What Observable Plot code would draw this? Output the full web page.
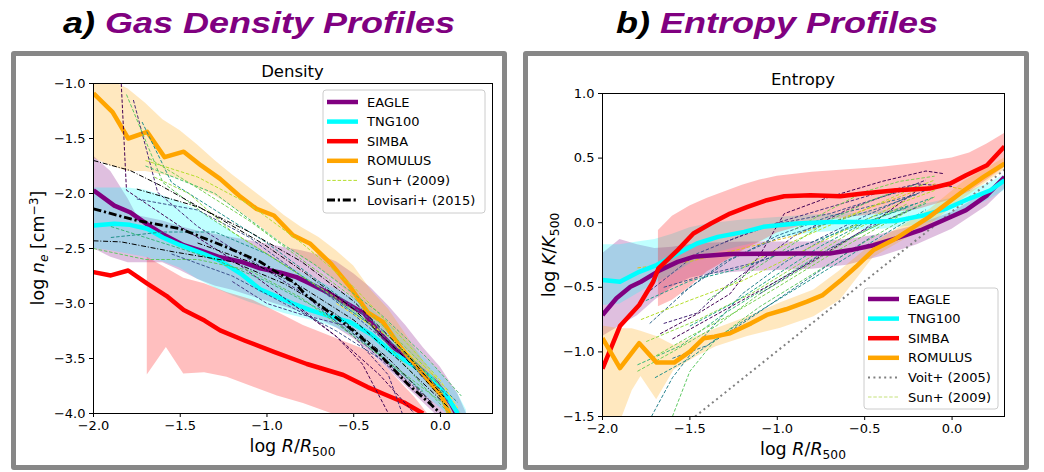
<!DOCTYPE html>
<html><head><meta charset="utf-8">
<script src="https://cdn.jsdelivr.net/npm/d3@7"></script>
<script src="https://cdn.jsdelivr.net/npm/@observablehq/plot@0.6"></script>
<style>
body{margin:0;background:#fff;width:1044px;height:472px;position:relative;overflow:hidden;font-family:"DejaVu Sans",sans-serif}
.title{position:absolute;top:8px;font-family:"Liberation Sans",Arial,sans-serif;font-weight:bold;font-style:italic;font-size:30px;line-height:30px;white-space:nowrap;transform:translateX(-50%) scaleX(1.2);transform-origin:center}
.box{position:absolute;top:51px;height:419px;border:5px solid #878787;border-radius:3px;box-sizing:border-box}
.panel{position:absolute;top:56px}
</style></head><body>
<div class="title" style="left:259px">a) <span style="color:#800080">Gas Density Profiles</span></div>
<div class="title" style="left:777px">b) <span style="color:#800080">Entropy Profiles</span></div>
<div class="box" style="left:11px;width:496px"></div>
<div class="box" style="left:523px;width:506px"></div>
<div id="left" class="panel" style="left:16px"></div>
<div id="right" class="panel" style="left:528px"></div>
<script>
// ---------------- DATA: Density panel (x = log R/R500, y = log n_e) ----------------
const dEagle = [[-2.0,-1.97],[-1.88,-2.11],[-1.79,-2.17],[-1.69,-2.28],[-1.6,-2.37],[-1.48,-2.47],[-1.38,-2.52],[-1.27,-2.58],[-1.15,-2.62],[-1.04,-2.68],[-0.92,-2.72],[-0.83,-2.76],[-0.75,-2.82],[-0.65,-2.9],[-0.54,-3.0],[-0.44,-3.09],[-0.35,-3.27],[-0.25,-3.43],[-0.15,-3.55],[-0.02,-3.73],[0.06,-3.91],[0.09,-4.0]];
const dTng = [[-2.0,-2.29],[-1.88,-2.275],[-1.79,-2.285],[-1.69,-2.32],[-1.6,-2.4],[-1.5,-2.47],[-1.38,-2.54],[-1.27,-2.61],[-1.15,-2.73],[-1.04,-2.87],[-0.94,-2.94],[-0.85,-3.0],[-0.75,-3.06],[-0.63,-3.12],[-0.52,-3.17],[-0.4,-3.28],[-0.29,-3.43],[-0.17,-3.55],[-0.06,-3.67],[0.04,-3.85],[0.1,-4.0]];
const dSimba = [[-2.0,-2.715],[-1.9,-2.745],[-1.8,-2.70],[-1.69,-2.82],[-1.58,-2.93],[-1.48,-3.06],[-1.36,-3.155],[-1.27,-3.245],[-1.13,-3.336],[-0.96,-3.44],[-0.77,-3.55],[-0.56,-3.65],[-0.42,-3.76],[-0.33,-3.82],[-0.21,-3.90],[-0.1,-4.0]];
const dRomulus = [[-2.0,-1.09],[-1.89,-1.26],[-1.8,-1.5],[-1.69,-1.44],[-1.59,-1.67],[-1.48,-1.62],[-1.38,-1.745],[-1.27,-1.867],[-1.16,-2.02],[-1.06,-2.14],[-0.96,-2.2],[-0.85,-2.38],[-0.75,-2.457],[-0.63,-2.64],[-0.52,-2.85],[-0.42,-3.08],[-0.33,-3.17],[-0.23,-3.40],[-0.1,-3.64],[0.0,-3.82],[0.05,-4.0]];
// bands: [x, low, high]
const dEagleBand = [[-2.0,-2.5,-1.66],[-1.9,-2.58,-1.8],[-1.8,-2.63,-2.05],[-1.75,-2.63,-2.2],[-1.6,-2.63,-2.25],[-1.5,-2.7,-2.3],[-1.4,-2.78,-2.34],[-1.3,-2.84,-2.37],[-1.2,-2.88,-2.4],[-1.1,-2.93,-2.43],[-1.0,-2.98,-2.46],[-0.9,-3.03,-2.49],[-0.8,-3.08,-2.52],[-0.7,-3.14,-2.56],[-0.6,-3.22,-2.62],[-0.5,-3.32,-2.73],[-0.4,-3.45,-2.86],[-0.3,-3.6,-3.02],[-0.2,-3.75,-3.2],[-0.1,-3.9,-3.4],[0.0,-4.05,-3.58],[0.1,-4.2,-3.82],[0.15,-4.3,-4.0]];
const dTngBand = [[-2.0,-2.5,-1.95],[-1.9,-2.52,-1.95],[-1.8,-2.55,-1.95],[-1.7,-2.58,-1.97],[-1.6,-2.62,-2.02],[-1.5,-2.68,-2.08],[-1.4,-2.78,-2.15],[-1.3,-2.86,-2.25],[-1.2,-2.93,-2.35],[-1.1,-2.99,-2.45],[-1.0,-3.04,-2.55],[-0.9,-3.09,-2.64],[-0.8,-3.13,-2.72],[-0.7,-3.17,-2.8],[-0.6,-3.22,-2.87],[-0.5,-3.3,-2.95],[-0.4,-3.42,-3.05],[-0.3,-3.55,-3.18],[-0.2,-3.68,-3.33],[-0.1,-3.82,-3.48],[0.0,-3.95,-3.63],[0.1,-4.1,-3.82],[0.15,-4.2,-3.97]];
const dSimbaBand = [[-1.69,-3.65,-2.58],[-1.58,-3.40,-2.68],[-1.48,-3.64,-2.77],[-1.36,-3.63,-2.82],[-1.23,-3.67,-2.9],[-1.08,-3.76,-2.97],[-0.94,-3.84,-3.08],[-0.79,-3.91,-3.2],[-0.63,-4.0,-3.3],[-0.5,-4.1,-3.38],[-0.42,-4.2,-3.43],[-0.3,-4.3,-3.6],[-0.15,-4.4,-3.85],[-0.05,-4.5,-4.05]];
const dRomulusBand = [[-2.0,-1.68,-0.9],[-1.9,-1.75,-0.97],[-1.8,-1.8,-1.05],[-1.7,-1.8,-1.18],[-1.6,-1.83,-1.33],[-1.5,-1.87,-1.43],[-1.4,-1.95,-1.56],[-1.3,-2.02,-1.7],[-1.2,-2.12,-1.83],[-1.1,-2.23,-1.95],[-1.0,-2.35,-2.07],[-0.9,-2.47,-2.2],[-0.8,-2.58,-2.31],[-0.7,-2.68,-2.4],[-0.6,-2.8,-2.52],[-0.5,-2.95,-2.66],[-0.4,-3.12,-2.88],[-0.3,-3.28,-3.05],[-0.2,-3.48,-3.28],[-0.1,-3.68,-3.52],[0.0,-3.88,-3.72],[0.08,-4.05,-3.92],[0.12,-4.15,-4.0]];
const dLovisariMean = [[-2.0,-2.14],[-1.75,-2.245],[-1.5,-2.32],[-1.23,-2.49],[-1.04,-2.62],[-0.96,-2.7],[-0.85,-2.8],[-0.77,-2.93],[-0.65,-3.07],[-0.5,-3.25],[-0.37,-3.43],[-0.19,-3.73],[-0.06,-3.91],[0.0,-4.0]];
const dLovisari = [
  [[-2.0,-1.70],[-1.79,-1.79],[-1.61,-1.93],[-1.27,-2.23],[-1.02,-2.46],[-0.8,-2.7],[-0.5,-3.05],[-0.2,-3.5],[0.0,-3.85]],
  [[-2.0,-2.43],[-1.84,-2.44],[-1.54,-2.53],[-1.2,-2.62],[-0.9,-2.82],[-0.6,-3.1],[-0.3,-3.5],[-0.05,-3.9]],
  [[-1.75,-1.96],[-1.4,-2.12],[-1.1,-2.35],[-0.8,-2.62],[-0.5,-2.98],[-0.2,-3.45],[0.02,-3.85]],
  [[-1.4,-2.45],[-1.1,-2.62],[-0.8,-2.85],[-0.5,-3.15],[-0.25,-3.5],[0.05,-3.95]]
];
const dSun = [
  [[-1.84,-1.0],[-1.81,-1.97],[-1.5,-2.3],[-1.2,-2.6],[-0.9,-2.95],[-0.6,-3.3],[-0.35,-3.65],[-0.15,-4.0]],
  [[-1.77,-1.15],[-1.63,-1.99],[-1.4,-2.3],[-1.1,-2.6],[-0.8,-2.9],[-0.5,-3.3],[-0.3,-3.65],[-0.22,-4.0]],
  [[-1.81,-1.1],[-1.6,-1.9],[-1.35,-2.2],[-1.0,-2.55],[-0.7,-2.85],[-0.4,-3.2],[-0.1,-3.75],[0.05,-4.0]],
  [[-1.72,-1.35],[-1.55,-1.9],[-1.3,-2.15],[-1.0,-2.45],[-0.7,-2.8],[-0.4,-3.15],[-0.1,-3.6],[0.05,-3.9]],
  [[-1.7,-1.7],[-1.4,-1.85],[-1.1,-2.1],[-0.8,-2.45],[-0.5,-2.85],[-0.2,-3.35],[0.0,-3.7]],
  [[-1.68,-1.68],[-1.4,-1.95],[-1.1,-2.25],[-0.8,-2.6],[-0.5,-2.95],[-0.2,-3.4],[0.05,-3.8]],
  [[-1.7,-1.75],[-1.3,-2.0],[-0.92,-2.45],[-0.73,-2.64],[-0.35,-3.09],[-0.08,-3.49],[0.12,-3.84]],
  [[-1.75,-2.05],[-1.4,-2.15],[-1.1,-2.4],[-0.8,-2.75],[-0.5,-3.1],[-0.2,-3.5],[0.05,-3.85]],
  [[-1.9,-2.4],[-1.6,-2.35],[-1.3,-2.35],[-1.0,-2.55],[-0.7,-2.85],[-0.4,-3.2],[-0.1,-3.6],[0.1,-3.9]],
  [[-2.0,-2.5],[-1.7,-2.6],[-1.4,-2.6],[-1.1,-2.7],[-0.8,-2.95],[-0.5,-3.3],[-0.2,-3.65],[0.05,-3.95]],
  [[-1.9,-2.3],[-1.6,-2.45],[-1.3,-2.6],[-1.0,-2.8],[-0.7,-3.05],[-0.4,-3.4],[-0.1,-3.8]],
  [[-1.55,-2.55],[-1.2,-2.75],[-0.9,-3.0],[-0.6,-3.25],[-0.3,-3.55],[-0.05,-3.9]],
  [[-1.2,-2.8],[-1.0,-3.0],[-0.8,-3.1],[-0.55,-3.2],[-0.35,-3.5],[-0.15,-3.8]],
  [[-0.8,-3.05],[-0.6,-3.3],[-0.45,-3.55],[-0.35,-3.85],[-0.3,-4.0]],
  [[-0.6,-3.0],[-0.3,-3.3],[0.0,-3.7],[0.1,-3.95]],
  [[-1.65,-1.85],[-1.45,-2.0],[-1.2,-2.35],[-0.9,-2.65],[-0.6,-2.95],[-0.3,-3.3],[0.0,-3.75]]
];
const dSunColors = ["#440154","#482878","#5ec962","#21918c","#b5de2b","#7ad151","#4ac16d","#3b528b","#21918c","#5ec962","#35b779","#3b528b","#443983","#440154","#fde725","#90d743"];

// ---------------- DATA: Entropy panel (x = log R/R500, y = log K/K500) ----------------
const eEagle = [[-2.0,-0.714],[-1.92,-0.585],[-1.84,-0.496],[-1.78,-0.457],[-1.67,-0.367],[-1.57,-0.303],[-1.48,-0.264],[-1.27,-0.243],[-0.89,-0.238],[-0.7,-0.238],[-0.58,-0.212],[-0.45,-0.174],[-0.32,-0.122],[-0.18,-0.058],[-0.05,0.019],[0.08,0.097],[0.2,0.212],[0.3,0.354]];
const eTng = [[-2.0,-0.444],[-1.9,-0.457],[-1.79,-0.38],[-1.69,-0.328],[-1.57,-0.238],[-1.46,-0.161],[-1.34,-0.11],[-1.19,-0.071],[-1.08,-0.032],[-0.89,-0.006],[-0.7,0.006],[-0.51,0.006],[-0.32,0.014],[-0.16,0.058],[-0.03,0.11],[0.1,0.187],[0.22,0.251],[0.3,0.328]];
const eSimba = [[-2.0,-1.13],[-1.9,-0.80],[-1.79,-0.637],[-1.71,-0.457],[-1.68,-0.354],[-1.57,-0.212],[-1.48,-0.083],[-1.38,-0.006],[-1.27,0.071],[-1.17,0.122],[-1.06,0.174],[-0.96,0.205],[-0.81,0.212],[-0.64,0.205],[-0.51,0.226],[-0.32,0.251],[-0.13,0.264],[-0.01,0.303],[0.08,0.367],[0.2,0.444],[0.3,0.59]];
const eRomulus = [[-2.0,-0.894],[-1.9,-1.126],[-1.79,-0.933],[-1.69,-1.083],[-1.59,-1.083],[-1.5,-0.998],[-1.42,-0.894],[-1.36,-0.882],[-1.27,-0.856],[-1.15,-0.779],[-1.06,-0.714],[-0.95,-0.67],[-0.83,-0.611],[-0.74,-0.56],[-0.64,-0.45],[-0.55,-0.341],[-0.45,-0.212],[-0.32,-0.122],[-0.13,0.045],[0.07,0.251],[0.18,0.354],[0.3,0.457]];
const eVoit = [[-1.47,-1.5],[0.3,0.41]];
const eEagleBand = [[-2.0,-0.88,-0.24],[-1.9,-0.8,-0.13],[-1.8,-0.72,-0.17],[-1.7,-0.6,-0.2],[-1.6,-0.5,-0.19],[-1.5,-0.43,-0.17],[-1.4,-0.4,-0.16],[-1.2,-0.38,-0.15],[-1.0,-0.37,-0.15],[-0.8,-0.36,-0.15],[-0.6,-0.33,-0.13],[-0.4,-0.26,-0.09],[-0.2,-0.17,-0.02],[0.0,-0.05,0.08],[0.2,0.13,0.24],[0.3,0.26,0.36]];
const eTngBand = [[-2.0,-0.64,-0.17],[-1.9,-0.63,-0.17],[-1.8,-0.55,-0.15],[-1.7,-0.47,-0.13],[-1.6,-0.4,-0.09],[-1.5,-0.32,-0.04],[-1.4,-0.25,-0.01],[-1.2,-0.18,0.02],[-1.0,-0.12,0.04],[-0.8,-0.08,0.06],[-0.6,-0.06,0.07],[-0.4,-0.05,0.09],[-0.2,-0.02,0.13],[0.0,0.04,0.19],[0.2,0.17,0.3],[0.3,0.25,0.37]];
const eSimbaBand = [[-1.68,-0.65,-0.06],[-1.6,-0.6,0.05],[-1.5,-0.5,0.13],[-1.4,-0.38,0.19],[-1.3,-0.3,0.24],[-1.2,-0.22,0.29],[-1.1,-0.15,0.33],[-1.0,-0.08,0.36],[-0.8,0.0,0.39],[-0.6,0.04,0.41],[-0.4,0.07,0.43],[-0.2,0.1,0.46],[0.0,0.18,0.5],[0.1,0.24,0.54],[0.2,0.33,0.61],[0.3,0.43,0.69]];
const eRomulusBand = [[-2.0,-1.6,-0.8],[-1.9,-1.55,-0.82],[-1.83,-1.3,-0.82],[-1.78,-1.19,-0.84],[-1.69,-1.37,-0.88],[-1.59,-1.14,-0.95],[-1.46,-1.035,-0.88],[-1.35,-0.96,-0.82],[-1.17,-0.88,-0.73],[-0.98,-0.817,-0.62],[-0.79,-0.727,-0.52],[-0.64,-0.6,-0.37],[-0.45,-0.27,-0.16],[-0.13,-0.02,0.1],[0.07,0.19,0.32],[0.3,0.41,0.5]];
const eSun = [
  [[-1.67,-0.86],[-1.45,-0.7],[-1.27,-0.55],[-1.1,-0.25],[-0.96,0.07],[-0.7,0.2],[-0.4,0.32],[-0.15,0.4],[-0.05,0.38]],
  [[-1.65,-0.78],[-1.46,-0.7],[-1.3,-0.5],[-1.1,-0.3],[-0.9,-0.1],[-0.6,0.1],[-0.3,0.25],[-0.15,0.33]],
  [[-1.75,-0.55],[-1.46,-0.24],[-1.08,-0.03],[-0.7,0.07],[-0.4,0.2],[-0.15,0.3]],
  [[-1.73,-0.78],[-1.5,-0.5],[-1.27,-0.29],[-1.0,-0.1],[-0.7,0.05],[-0.4,0.15],[-0.2,0.22]],
  [[-1.72,-1.5],[-1.6,-1.2],[-1.4,-0.85],[-1.2,-0.55],[-0.95,-0.3],[-0.7,-0.1],[-0.45,0.05],[-0.2,0.15]],
  [[-1.78,-0.62],[-1.5,-0.45],[-1.2,-0.35],[-0.9,-0.2],[-0.6,-0.05],[-0.3,0.1],[-0.1,0.2]],
  [[-1.8,-1.1],[-1.55,-0.95],[-1.3,-0.7],[-1.0,-0.45],[-0.7,-0.2],[-0.4,0.0],[-0.15,0.15]],
  [[-1.8,-1.15],[-1.6,-1.0],[-1.35,-0.8],[-1.1,-0.55],[-0.85,-0.35],[-0.55,-0.1],[-0.25,0.1]],
  [[-1.78,-0.75],[-1.5,-0.6],[-1.2,-0.45],[-0.9,-0.25],[-0.6,-0.05],[-0.3,0.15],[-0.1,0.25]],
  [[-1.75,-0.92],[-1.45,-0.75],[-1.15,-0.55],[-0.85,-0.3],[-0.55,-0.05],[-0.25,0.15]],
  [[-1.8,-0.35],[-1.5,-0.3],[-1.2,-0.2],[-0.9,-0.1],[-0.6,0.05],[-0.3,0.2],[-0.1,0.3],[0.1,0.25]],
  [[-1.6,-0.9],[-1.4,-0.75],[-1.2,-0.6],[-1.0,-0.45],[-0.8,-0.3],[-0.5,-0.05],[-0.2,0.25]],
  [[-1.7,-1.2],[-1.5,-1.05],[-1.3,-0.85],[-1.0,-0.6],[-0.7,-0.35],[-0.4,-0.1],[-0.15,0.1]],
  [[-1.6,-1.5],[-1.5,-1.15],[-1.35,-0.9],[-1.1,-0.65],[-0.8,-0.4],[-0.5,-0.15],[-0.25,0.05]],
  [[-1.65,-0.5],[-1.4,-0.4],[-1.1,-0.3],[-0.8,-0.15],[-0.5,0.05],[-0.25,0.2],[-0.05,0.3]],
  [[-1.72,-1.05],[-1.5,-0.88],[-1.25,-0.7],[-1.0,-0.5],[-0.7,-0.25],[-0.4,-0.02],[-0.1,0.2]],
  [[-1.55,-0.55],[-1.3,-0.3],[-1.0,-0.12],[-0.7,0.0],[-0.4,0.12],[-0.2,0.22]],
  [[-1.4,-0.6],[-1.2,-0.42],[-0.95,-0.2],[-0.7,0.02],[-0.45,0.18],[-0.2,0.3]],
  [[-1.2,-0.35],[-1.0,-0.2],[-0.8,-0.08],[-0.5,0.1],[-0.25,0.25],[-0.1,0.33]],
  [[-1.5,-0.8],[-1.25,-0.62],[-1.0,-0.4],[-0.75,-0.18],[-0.5,0.0],[-0.25,0.12]],
  [[-1.1,-0.55],[-0.9,-0.38],[-0.7,-0.2],[-0.45,-0.02],[-0.2,0.12]],
  [[-1.3,-0.15],[-1.0,0.0],[-0.7,0.12],[-0.45,0.22],[-0.2,0.3],[0.0,0.28]],
  [[-0.9,-0.05],[-0.7,0.1],[-0.5,0.24],[-0.3,0.32],[-0.1,0.36]],
  [[-1.6,-1.05],[-1.4,-0.95],[-1.2,-0.78],[-0.95,-0.55],[-0.7,-0.32],[-0.45,-0.1]]
];
const eSunColors = ["#440154","#482878","#3e4a89","#31688e","#26828e","#1f9e89","#35b779","#6ece58","#b5de2b","#90d743","#e0c020","#440154","#21918c","#5ec962","#3b528b","#7ad151","#2c728e","#5ec962","#b5de2b","#20a386","#3b528b","#472d7b","#7ad151","#2a788e"];

const xTicks = [-2,-1.5,-1,-0.5,0];
const dYTicks = [-4,-3.5,-3,-2.5,-2,-1.5,-1];
const eYTicks = [-1.5,-1,-0.5,0,0.5,1];
const simNames = ["EAGLE","TNG100","SIMBA","ROMULUS"];

// ---------------- helpers ----------------
const C = {EAGLE:"#800080", TNG100:"#00ffff", SIMBA:"#ff0000", ROMULUS:"#ffa500"};
const fmt = d3.format(".1f");
const px = d=>d[0], py = d=>d[1];
const band = (data, color) => Plot.areaY(data, {x: d=>d[0], y1: d=>d[1], y2: d=>d[2], fill: color, fillOpacity: 0.25, clip: true});
const thick = (data, color) => Plot.line(data, {x: px, y: py, stroke: color, strokeWidth: 4.5, strokeLinejoin: "round", strokeLinecap: "butt", clip: true});
const thin = (data, color, dash, w=1) => Plot.line(data, {x: px, y: py, stroke: color, strokeWidth: w, strokeDasharray: dash, strokeLinecap: "butt", strokeLinejoin: "miter", clip: true});
const baseStyle = {fontFamily: "DejaVu Sans", fontSize: "13px", color: "black", background: "none", overflow: "visible"};

function addText(svg, x, y, size, parts, rotate) {
  const t = d3.select(svg).append("text")
    .attr("font-family", "DejaVu Sans").attr("font-size", size).attr("fill", "black")
    .attr("text-anchor", "middle");
  if (rotate) t.attr("transform", `translate(${x},${y}) rotate(-90)`); else t.attr("x", x).attr("y", y);
  let shift = 0;
  parts.forEach(p => {
    const s = t.append("tspan").text(p.t);
    if (p.i) s.attr("font-style", "italic");
    const want = p.sub ? 4 : p.sup ? -6 : 0;
    if (want !== shift) { s.attr("dy", want - shift); shift = want; }
    if (p.sub || p.sup) s.attr("font-size", size * 0.7);
  });
}
function addLegend(svg, bx, by, bw, bh, first, step, items) {
  const g = d3.select(svg).append("g");
  g.append("rect").attr("x", bx).attr("y", by).attr("width", bw).attr("height", bh).attr("rx", 3)
    .attr("fill", "white").attr("fill-opacity", 0.8).attr("stroke", "#cccccc");
  items.forEach((it, i) => {
    const y = by + first + i * step;
    g.append("line").attr("x1", bx + 4).attr("x2", bx + 35).attr("y1", y).attr("y2", y)
      .attr("stroke", it.c).attr("stroke-width", it.w).attr("stroke-linecap", "butt")
      .attr("stroke-dasharray", it.dash || null);
    g.append("text").attr("x", bx + 44).attr("y", y).attr("dy", "0.36em").attr("text-anchor", "start")
      .attr("font-family", "DejaVu Sans").attr("font-size", 13).attr("fill", "black").text(it.label);
  });
}

// ---------------- Density panel ----------------
const left = Plot.plot({
  width: 486, height: 409, marginLeft: 77, marginRight: 10, marginTop: 27, marginBottom: 52,
  style: baseStyle,
  x: {domain: [-2, 0.3], ticks: xTicks, tickFormat: fmt, tickSize: 4, tickPadding: 3, label: null},
  y: {domain: [-4, -1], ticks: dYTicks, tickFormat: fmt, tickSize: 4, tickPadding: 4, label: null},
  marks: [
    band(dEagleBand, C.EAGLE), band(dTngBand, C.TNG100), band(dSimbaBand, C.SIMBA), band(dRomulusBand, C.ROMULUS),
    thick(dEagle, C.EAGLE), thick(dTng, C.TNG100), thick(dSimba, C.SIMBA), thick(dRomulus, C.ROMULUS),
    ...dSun.map((s, i) => thin(s, dSunColors[i], "3.5,1.8")),
    ...dLovisari.map(s => thin(s, "black", "5,1.8,1,1.8")),
    thin(dLovisariMean, "black", "8,2.8,2.2,2.8", 2.8),
    Plot.frame({stroke: "black", strokeWidth: 1})
  ]
});
document.getElementById("left").appendChild(left);
addText(left, 276.5, 21, 16.5, [{t: "Density"}]);
addText(left, 276.5, 396, 17.5, [{t: "log "}, {t: "R", i: 1}, {t: "/"}, {t: "R", i: 1}, {t: "500", sub: 1}]);
addText(left, 28, 192, 17.5, [{t: "log "}, {t: "n", i: 1}, {t: "e", sub: 1, i: 1}, {t: " [cm"}, {t: "−3", sup: 1}, {t: "]"}], true);
addLegend(left, 307, 34, 162, 123, 12, 19.6, [
  ...simNames.map(n => ({label: n, c: C[n], w: 4.5})),
  {label: "Sun+ (2009)", c: "#b5de2b", w: 1, dash: "3.5,1.8"},
  {label: "Lovisari+ (2015)", c: "black", w: 2.8, dash: "8,2.8,2.2,2.8"}
]);

// ---------------- Entropy panel ----------------
const right = Plot.plot({
  width: 496, height: 409, marginLeft: 74, marginRight: 20, marginTop: 37, marginBottom: 49,
  style: baseStyle,
  x: {domain: [-2, 0.3], ticks: xTicks, tickFormat: fmt, tickSize: 4, tickPadding: 3, label: null},
  y: {domain: [-1.5, 1], ticks: eYTicks, tickFormat: fmt, tickSize: 4, tickPadding: 4, label: null},
  marks: [
    band(eEagleBand, C.EAGLE), band(eTngBand, C.TNG100), band(eSimbaBand, C.SIMBA), band(eRomulusBand, C.ROMULUS),
    ...eSun.map((s, i) => thin(s, eSunColors[i], "3.5,1.8")),
    thin(eVoit, "#808080", "2,3.4", 2),
    thick(eEagle, C.EAGLE), thick(eTng, C.TNG100), thick(eSimba, C.SIMBA), thick(eRomulus, C.ROMULUS),
    Plot.frame({stroke: "black", strokeWidth: 1})
  ]
});
document.getElementById("right").appendChild(right);
addText(right, 275, 29, 16.5, [{t: "Entropy"}]);
addText(right, 275, 399, 17.5, [{t: "log "}, {t: "R", i: 1}, {t: "/"}, {t: "R", i: 1}, {t: "500", sub: 1}]);
addText(right, 27, 199, 17.5, [{t: "log "}, {t: "K", i: 1}, {t: "/"}, {t: "K", i: 1}, {t: "500", sub: 1}], true);
addLegend(right, 336, 232, 134, 121, 11, 19.6, [
  ...simNames.map(n => ({label: n, c: C[n], w: 4.5})),
  {label: "Voit+ (2005)", c: "#808080", w: 2, dash: "2,3.4"},
  {label: "Sun+ (2009)", c: "#c5e17a", w: 1, dash: "3.5,1.8"}
]);
</script>
</body></html>
